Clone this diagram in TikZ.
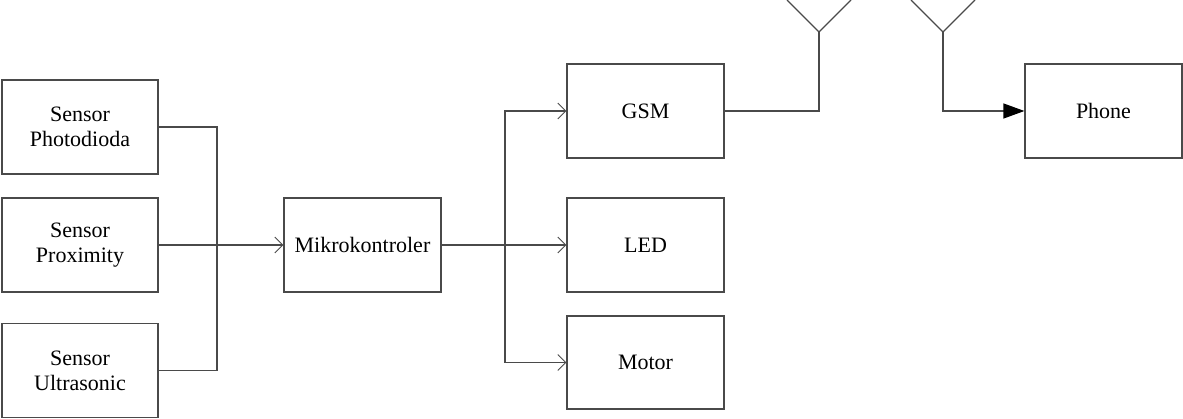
\documentclass[tikz,border=0pt]{standalone}
\usepackage{fontspec}
\setmainfont{Liberation Serif}
\usetikzlibrary{arrows.meta}
\definecolor{ln}{HTML}{4a4a4a}
\begin{document}
\begin{tikzpicture}[x=1pt,y=-1pt,
  blk/.style={draw=ln,line width=1.2pt,rectangle,minimum width=156pt,minimum height=94pt,inner sep=0pt,align=center,font=\fontsize{22}{25}\selectfont,text=black},
  wire/.style={draw=ln,line width=1.2pt},
  openarr/.style={wire,-{Straight Barb[length=8pt,width=16pt,line width=0.9pt]}},
  solidarr/.style={wire,-{Triangle[length=21pt,width=15pt,fill=black,color=black]}}]
\useasboundingbox (0,0) rectangle (1183,419);
\node[blk] (pd) at (80,127) {Sensor\\Photodioda};
\node[blk] (px) at (80,245) {Sensor\\Proximity};
\node[blk] (us) at (80,370.5) {Sensor\\Ultrasonic};
\node[blk,minimum width=157pt] (mk) at (362.5,245) {Mikrokontroler};
\node[blk,minimum width=157pt] (gsm) at (645.5,111) {GSM};
\node[blk,minimum width=157pt] (led) at (645.5,245) {LED};
\node[blk,minimum width=157pt,minimum height=93pt] (mo) at (645.5,362.5) {Motor};
\node[blk,minimum width=157pt] (ph) at (1103.5,111) {Phone};
\coordinate (jin) at (217,245);
\coordinate (jout) at (505,245);
\coordinate (a1) at (819,32);
\coordinate (a1l) at (787,0);
\coordinate (a1r) at (851,0);
\coordinate (a2) at (943,32);
\coordinate (a2l) at (911,0);
\coordinate (a2r) at (975,0);
\draw[wire] (pd.east) -| (jin);
\draw[wire] (us.east) -| (jin);
\draw[openarr] (px.east) -- (mk.west);
\draw[wire] (mk.east) -- (jout);
\draw[openarr] (jout) |- (gsm.west);
\draw[openarr] (jout) -- (led.west);
\draw[openarr] (jout) |- (mo.west);
\draw[wire] (gsm.east) -| (a1);
\draw[wire] (a1l) -- (a1) -- (a1r);
\draw[wire] (a2l) -- (a2) -- (a2r);
\draw[solidarr] (a2) |- (ph.west);
\end{tikzpicture}
\end{document}
